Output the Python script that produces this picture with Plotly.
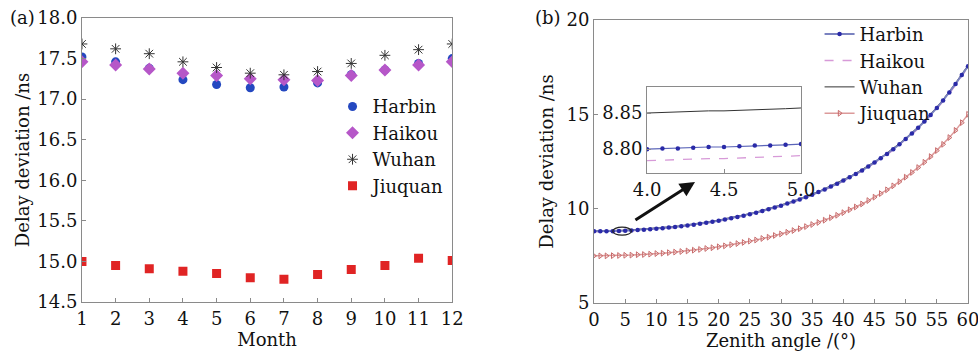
import plotly.graph_objects as go

# ---------------- Panel (a) data ----------------
months = [1, 2, 3, 4, 5, 6, 7, 8, 9, 10, 11, 12]
harbin_a = [17.52, 17.46, 17.38, 17.24, 17.18, 17.14, 17.15, 17.20, 17.30, 17.36, 17.44, 17.50]
haikou_a = [17.46, 17.42, 17.37, 17.32, 17.29, 17.25, 17.24, 17.23, 17.29, 17.36, 17.42, 17.46]
wuhan_a = [17.68, 17.62, 17.56, 17.46, 17.39, 17.32, 17.30, 17.34, 17.44, 17.54, 17.61, 17.68]
jiuquan_a = [15.00, 14.95, 14.91, 14.88, 14.85, 14.80, 14.78, 14.84, 14.90, 14.95, 15.04, 15.01]

# ---------------- Panel (b) data ----------------
zenith = list(range(0, 61))
harbin_b = [8.80, 8.80, 8.81, 8.81, 8.82, 8.83, 8.85, 8.87, 8.89, 8.91,
            8.94, 8.96, 9.00, 9.03, 9.07, 9.11, 9.15, 9.20, 9.25, 9.31,
            9.36, 9.43, 9.49, 9.56, 9.63, 9.71, 9.79, 9.88, 9.97, 10.06,
            10.16, 10.27, 10.38, 10.49, 10.61, 10.74, 10.88, 11.02, 11.17, 11.32,
            11.49, 11.66, 11.84, 12.03, 12.23, 12.45, 12.67, 12.90, 13.15, 13.41,
            13.69, 13.98, 14.29, 14.62, 14.97, 15.34, 15.74, 16.16, 16.61, 17.09,
            17.55]
haikou_b = [8.77, 8.77, 8.78, 8.78, 8.79, 8.80, 8.82, 8.84, 8.86, 8.88,
            8.91, 8.93, 8.97, 9.00, 9.04, 9.08, 9.12, 9.17, 9.22, 9.28,
            9.33, 9.39, 9.46, 9.53, 9.60, 9.68, 9.76, 9.84, 9.93, 10.03,
            10.13, 10.23, 10.34, 10.46, 10.58, 10.71, 10.84, 10.98, 11.13, 11.28,
            11.45, 11.62, 11.80, 11.99, 12.19, 12.40, 12.62, 12.86, 13.11, 13.37,
            13.64, 13.94, 14.24, 14.57, 14.92, 15.29, 15.68, 16.10, 16.55, 17.03,
            17.50]
wuhan_b = [8.83, 8.83, 8.84, 8.84, 8.85, 8.86, 8.88, 8.90, 8.92, 8.94,
           8.97, 9.00, 9.03, 9.06, 9.10, 9.14, 9.19, 9.23, 9.28, 9.34,
           9.40, 9.46, 9.52, 9.59, 9.67, 9.74, 9.82, 9.91, 10.00, 10.10,
           10.20, 10.30, 10.41, 10.53, 10.65, 10.78, 10.91, 11.06, 11.21, 11.36,
           11.53, 11.70, 11.88, 12.07, 12.28, 12.49, 12.71, 12.95, 13.20, 13.46,
           13.74, 14.03, 14.34, 14.67, 15.02, 15.39, 15.79, 16.21, 16.66, 17.14,
           17.60]
jiuquan_b = [7.50, 7.50, 7.50, 7.51, 7.52, 7.53, 7.54, 7.56, 7.57, 7.59,
             7.62, 7.64, 7.67, 7.70, 7.73, 7.76, 7.80, 7.84, 7.89, 7.93,
             7.98, 8.03, 8.09, 8.15, 8.21, 8.28, 8.34, 8.42, 8.49, 8.58,
             8.66, 8.75, 8.84, 8.94, 9.05, 9.16, 9.27, 9.39, 9.52, 9.65,
             9.79, 9.94, 10.09, 10.25, 10.43, 10.61, 10.80, 11.00, 11.21, 11.43,
             11.67, 11.92, 12.18, 12.46, 12.76, 13.08, 13.41, 13.77, 14.15, 14.56,
             15.00]

# ---------------- Inset data ----------------
zenith_inset = [4.0, 4.1, 4.2, 4.3, 4.4, 4.5, 4.6, 4.7, 4.8, 4.9, 5.0]
harbin_inset = [8.800, 8.801, 8.801, 8.802, 8.803, 8.803, 8.804, 8.805, 8.805, 8.806, 8.807]
haikou_inset = [8.784, 8.785, 8.785, 8.786, 8.787, 8.787, 8.788, 8.789, 8.789, 8.790, 8.791]
wuhan_inset = [8.850, 8.851, 8.851, 8.852, 8.853, 8.853, 8.854, 8.855, 8.855, 8.856, 8.857]

FONT = "'DejaVu Serif', 'Liberation Serif', serif"
AXC = "#8a8a8a"

fig = go.Figure()

# Panel (a)
fig.add_trace(go.Scatter(x=months, y=harbin_a, mode="markers", name="Harbin",
                         marker=dict(symbol="circle", size=9, color="#2448c0"),
                         xaxis="x", yaxis="y", legend="legend"))
fig.add_trace(go.Scatter(x=months, y=haikou_a, mode="markers", name="Haikou",
                         marker=dict(symbol="diamond", size=10, color="#b657c8"),
                         xaxis="x", yaxis="y", legend="legend"))
fig.add_trace(go.Scatter(x=months, y=wuhan_a, mode="markers", name="Wuhan",
                         marker=dict(symbol="asterisk", size=9, color="#333333",
                                     line=dict(width=1, color="#333333")),
                         xaxis="x", yaxis="y", legend="legend"))
fig.add_trace(go.Scatter(x=months, y=jiuquan_a, mode="markers", name="Jiuquan",
                         marker=dict(symbol="square", size=9, color="#e02424"),
                         xaxis="x", yaxis="y", legend="legend"))

# Panel (b)
fig.add_trace(go.Scatter(x=zenith, y=wuhan_b, mode="lines", name="Wuhan",
                         line=dict(color="#333333", width=1), legendrank=3,
                         xaxis="x2", yaxis="y2", legend="legend2"))
fig.add_trace(go.Scatter(x=zenith, y=haikou_b, mode="lines", name="Haikou",
                         line=dict(color="#d79ad8", width=1.3, dash="dash"), legendrank=2,
                         xaxis="x2", yaxis="y2", legend="legend2"))
fig.add_trace(go.Scatter(x=zenith, y=harbin_b, mode="lines+markers", name="Harbin",
                         line=dict(color="#7a82c0", width=2),
                         marker=dict(symbol="circle", size=4.5, color="#2a2aa8"), legendrank=1,
                         xaxis="x2", yaxis="y2", legend="legend2"))
fig.add_trace(go.Scatter(x=zenith, y=jiuquan_b, mode="lines+markers", name="Jiuquan",
                         line=dict(color="#dc9a9a", width=1.5),
                         marker=dict(symbol="triangle-right-open", size=5, color="#c86a6a",
                                     line=dict(width=1)), legendrank=4,
                         xaxis="x2", yaxis="y2", legend="legend2"))

# Inset
fig.add_trace(go.Scatter(x=zenith_inset, y=wuhan_inset, mode="lines", showlegend=False,
                         line=dict(color="#333333", width=1), xaxis="x3", yaxis="y3"))
fig.add_trace(go.Scatter(x=zenith_inset, y=haikou_inset, mode="lines", showlegend=False,
                         line=dict(color="#d79ad8", width=1.3, dash="dash"), xaxis="x3", yaxis="y3"))
fig.add_trace(go.Scatter(x=zenith_inset, y=harbin_inset, mode="lines+markers", showlegend=False,
                         line=dict(color="#5a64b8", width=1.2),
                         marker=dict(symbol="circle", size=4.5, color="#2a2aa8"),
                         xaxis="x3", yaxis="y3"))

tickfont = dict(family=FONT, size=18, color="#111111")
axis_common = dict(showline=True, linecolor=AXC, linewidth=1, mirror=True,
                   ticks="inside", ticklen=4, tickcolor=AXC, showgrid=False,
                   zeroline=False, tickfont=tickfont, automargin=False,
                   ticklabeloverflow="allow")
title_font = dict(family=FONT, size=18, color="#111111")

fig.update_layout(
    width=978, height=353,
    margin=dict(l=0, r=0, t=0, b=0, autoexpand=False),
    paper_bgcolor="white", plot_bgcolor="white",
    font=dict(family=FONT, size=18, color="#111111"),
    xaxis=dict(domain=[0.0838, 0.4624], range=[1, 12], tickvals=months,
               title=dict(text="Month", font=title_font, standoff=0),
               anchor="y", **axis_common),
    yaxis=dict(domain=[0.1445, 0.949], range=[14.5, 18.0], dtick=0.5, tickformat=".1f",
               title=dict(text="Delay deviation /ns", font=title_font, standoff=2),
               anchor="x", **axis_common),
    xaxis2=dict(domain=[0.6074, 0.9898], range=[0, 60], dtick=5,
                title=dict(text="Zenith angle /(°)", font=title_font, standoff=0),
                anchor="y2", **axis_common),
    yaxis2=dict(domain=[0.1416, 0.9433], range=[5, 20], dtick=5,
                title=dict(text="Delay deviation /ns", font=title_font, standoff=8),
                anchor="x2", **axis_common),
    xaxis3=dict(domain=[0.6616, 0.819], range=[4, 5], tickvals=[4.0, 4.5, 5.0],
                tickformat=".1f", anchor="y3", **axis_common),
    yaxis3=dict(domain=[0.5099, 0.7535], range=[8.767, 8.886], tickvals=[8.80, 8.85],
                tickformat=".2f", anchor="x3", **axis_common),
    legend=dict(x=0.34, y=0.75, xanchor="left", yanchor="top",
                bgcolor="rgba(0,0,0,0)", font=dict(family=FONT, size=18),
                tracegroupgap=0, itemwidth=30),
    legend2=dict(x=0.838, y=0.955, xanchor="left", yanchor="top",
                 bgcolor="rgba(0,0,0,0)", font=dict(family=FONT, size=18),
                 tracegroupgap=0, itemwidth=30),
    showlegend=True,
)

fig.add_annotation(text="(a)", xref="paper", yref="paper", x=0.008, y=0.985,
                   xanchor="left", yanchor="top", showarrow=False,
                   font=dict(family=FONT, size=18))
fig.add_annotation(text="(b)", xref="paper", yref="paper", x=0.545, y=0.985,
                   xanchor="left", yanchor="top", showarrow=False,
                   font=dict(family=FONT, size=18))

# Arrow pointing toward inset
fig.add_annotation(x=16.2, y=11.42, ax=6.4, ay=9.35, xref="x2", yref="y2",
                   axref="x2", ayref="y2", showarrow=True, arrowhead=2,
                   arrowsize=1, arrowwidth=3, arrowcolor="#111111", text="")
# Ellipse marking the zoomed region
fig.add_shape(type="circle", xref="x2", yref="y2", x0=3.0, x1=6.0, y0=8.6, y1=9.02,
              line=dict(color="#222222", width=1.2))

fig.write_html("out.html", config={"displayModeBar": False},
               post_script="document.body.style.margin='0px';document.body.style.overflow='hidden';")
